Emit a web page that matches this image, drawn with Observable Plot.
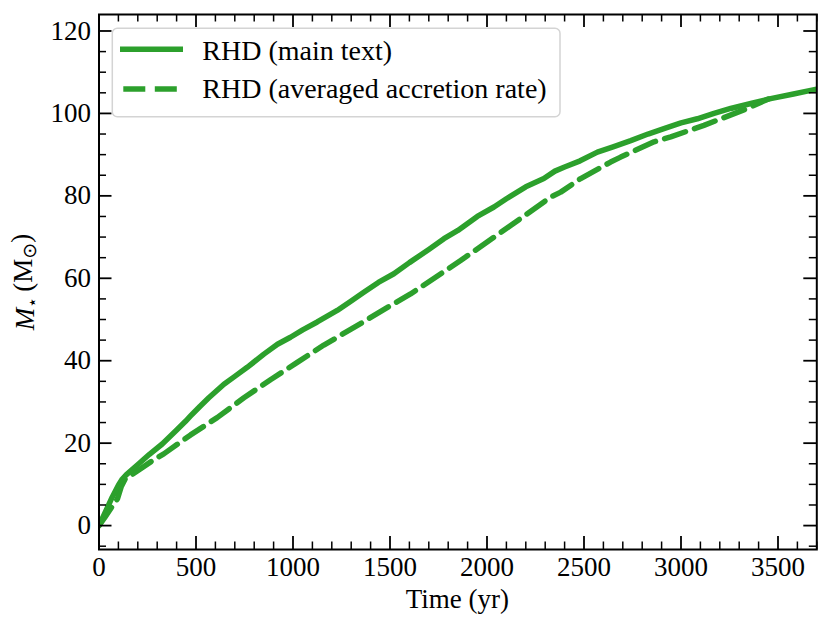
<!DOCTYPE html>
<html>
<head>
<meta charset="utf-8">
<script src="https://cdn.jsdelivr.net/npm/d3@7"></script>
<script src="https://cdn.jsdelivr.net/npm/@observablehq/plot@0.6"></script>
<style>
  html, body { margin: 0; padding: 0; background: #fff; }
  #chart { width: 831px; height: 633px; }
</style>
</head>
<body>
<div id="chart"></div>
<script>
// ---- data ----
const seriesNames = ["RHD (main text)", "RHD (averaged accretion rate)"];
const xLabel = "Time (yr)";

const mainTime = [0, 30, 68, 100, 120, 140, 205, 260, 326, 403, 446, 472, 520, 566, 644, 700, 764, 850, 920, 987, 1050, 1125, 1228, 1300, 1365, 1440, 1520, 1600, 1700, 1778, 1850, 1950, 2036, 2100, 2200, 2293, 2350, 2400, 2480, 2569, 2650, 2741, 2830, 2912, 3000, 3084, 3170, 3256, 3360, 3462, 3580, 3700];
const mainMass = [0, 3.0, 6.9, 9.8, 11.3, 12.3, 15.0, 17.3, 19.8, 23.3, 25.3, 26.6, 28.9, 31.0, 34.3, 36.2, 38.4, 41.6, 44.0, 45.7, 47.5, 49.4, 52.2, 54.5, 56.6, 59.0, 61.1, 63.8, 67.0, 69.6, 71.6, 75.0, 77.3, 79.3, 82.2, 84.2, 86.0, 87.0, 88.5, 90.6, 91.9, 93.4, 95.0, 96.3, 97.7, 98.7, 100.0, 101.2, 102.4, 103.6, 104.7, 105.9];

const avgTime = [0, 30, 70, 95, 115, 135, 190, 280, 334, 430, 472, 609, 747, 884, 1022, 1159, 1297, 1348, 1503, 1606, 1864, 2122, 2328, 2380, 2483, 2637, 2689, 2861, 2947, 3118, 3342, 3450];
const avgMass = [0, 2.0, 4.8, 6.5, 9.5, 11.3, 13.0, 15.9, 17.4, 20.6, 22.0, 26.2, 31.0, 35.4, 39.6, 43.8, 47.6, 49.0, 53.4, 56.2, 64.3, 72.8, 79.7, 80.9, 84.2, 88.2, 89.4, 93.1, 94.3, 97.1, 101.2, 103.5];

const xMajor = [0, 500, 1000, 1500, 2000, 2500, 3000, 3500];
const xMinor = d3.range(0, 3701, 100).filter(v => v % 500 !== 0);
const yMajor = [0, 20, 40, 60, 80, 100, 120];
const yMinor = d3.range(-5, 124, 5).filter(v => v % 20 !== 0);

// ---- layout ----
const W = 831, H = 633;
const mL = 98.5, mR = 14.7, mT = 14, mB = 84;
const pw = W - mL - mR, ph = H - mT - mB;
const green = "#2ca02c";
const major = 13, minor = 7.5;
const serif = "'Liberation Serif', 'Times New Roman', serif";

const mainData = mainTime.map((t, i) => ({t, m: mainMass[i]}));
const avgData = avgTime.map((t, i) => ({t, m: avgMass[i]}));

const svg = Plot.plot({
  width: W, height: H,
  marginLeft: mL, marginRight: mR, marginTop: mT, marginBottom: mB,
  style: {fontFamily: serif, fontSize: "27px", background: "#fff", color: "#000"},
  x: {domain: [0, 3700]},
  y: {domain: [-5.8, 124]},
  marks: [
    Plot.line(avgData, {x: "t", y: "m", stroke: green, strokeWidth: 5.5, strokeDasharray: "22,9.5", clip: true}),
    Plot.line(mainData, {x: "t", y: "m", stroke: green, strokeWidth: 5.5, clip: true}),
    // inward ticks, bottom / top
    Plot.tickX(xMajor, {x: d => d, insetTop: ph - major, stroke: "#000", strokeWidth: 1.8}),
    Plot.tickX(xMinor, {x: d => d, insetTop: ph - minor, stroke: "#000", strokeWidth: 1.5}),
    Plot.tickX(xMajor, {x: d => d, insetBottom: ph - major, stroke: "#000", strokeWidth: 1.8}),
    Plot.tickX(xMinor, {x: d => d, insetBottom: ph - minor, stroke: "#000", strokeWidth: 1.5}),
    // inward ticks, left / right
    Plot.tickY(yMajor, {y: d => d, insetRight: pw - major, stroke: "#000", strokeWidth: 1.8}),
    Plot.tickY(yMinor, {y: d => d, insetRight: pw - minor, stroke: "#000", strokeWidth: 1.5}),
    Plot.tickY(yMajor, {y: d => d, insetLeft: pw - major, stroke: "#000", strokeWidth: 1.8}),
    Plot.tickY(yMinor, {y: d => d, insetLeft: pw - minor, stroke: "#000", strokeWidth: 1.5}),
    Plot.frame({stroke: "#000", strokeWidth: 2}),
    Plot.axisX({ticks: xMajor, tickSize: 0, tickPadding: 7, fontSize: 27, label: null, tickFormat: d => String(d)}),
    Plot.axisY({ticks: yMajor, tickSize: 0, tickPadding: 8, fontSize: 27, label: null, tickFormat: d => String(d)})
  ]
});

const sel = d3.select(svg);

// x-axis label
sel.append("text")
  .attr("x", mL + pw / 2).attr("y", 608)
  .attr("text-anchor", "middle")
  .attr("font-family", serif)
  .attr("font-size", 27)
  .attr("fill", "#000")
  .text(xLabel);

// y-axis label with italic M and subscripts
const yl = sel.append("text")
  .attr("transform", "translate(34,282) rotate(-90)")
  .attr("text-anchor", "middle")
  .attr("font-family", serif)
  .attr("font-size", 27)
  .attr("fill", "#000");
yl.append("tspan").attr("font-style", "italic").text("M");
yl.append("tspan").attr("font-size", 17).attr("dy", "0.22em").attr("font-family", "'DejaVu Sans', sans-serif").text("⋆");
yl.append("tspan").attr("dy", "-0.22em").text("\u2009(M");
yl.append("tspan").attr("font-size", 19).attr("dy", "0.2em").attr("font-family", "'DejaVu Sans', sans-serif").text("⊙");
yl.append("tspan").attr("dy", "-0.2em").text(")");

// legend
const lg = sel.append("g").attr("text-anchor", "start");
lg.append("rect").attr("x", 112.3).attr("y", 28.3).attr("width", 447.7).attr("height", 88.4)
  .attr("rx", 5).attr("fill", "#fff").attr("fill-opacity", 0.8).attr("stroke", "#d4d4d4").attr("stroke-width", 1.5);
lg.append("line").attr("x1", 120).attr("x2", 183).attr("y1", 49.3).attr("y2", 49.3)
  .attr("stroke", green).attr("stroke-width", 5.5);
lg.append("line").attr("x1", 120).attr("x2", 183).attr("y1", 89).attr("y2", 89)
  .attr("stroke", green).attr("stroke-width", 5.5).attr("stroke-dasharray", "22,9.5").attr("stroke-dashoffset", 28.2);
lg.append("text").attr("x", 202.3).attr("y", 60).attr("text-anchor", "start").attr("font-family", serif)
  .attr("font-size", 28).attr("fill", "#000").text(seriesNames[0]);
lg.append("text").attr("x", 202.3).attr("y", 98.3).attr("text-anchor", "start").attr("font-family", serif)
  .attr("font-size", 28).attr("fill", "#000").text(seriesNames[1]);

document.getElementById("chart").appendChild(svg);
</script>
</body>
</html>
